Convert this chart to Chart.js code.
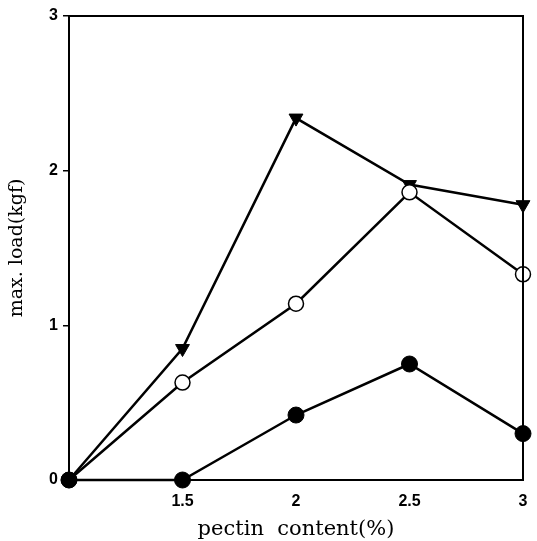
<!DOCTYPE html>
<html>
<head>
<meta charset="UTF-8">
<title>max. load vs pectin content</title>
<script src="https://cdn.jsdelivr.net/npm/chart.js"></script>
<style>
  html, body { margin: 0; padding: 0; background: #fff; overflow: hidden; }
  #wrap { width: 537px; height: 541px; }
</style>
</head>
<body>
<div id="wrap"><canvas id="chart"></canvas></div>
<script>
// data
const pectin = [1, 1.5, 2, 2.5, 3];
const loadTriangle = [0, 0.85, 2.34, 1.91, 1.78];
const loadOpen = [0, 0.63, 1.14, 1.86, 1.33];
const loadFilled = [0, 0, 0.42, 0.75, 0.30];
const xTicks = [1.5, 2, 2.5, 3];
const yTicks = [0, 1, 2, 3];

const toXY = (ys) => pectin.map((x, i) => ({ x: x, y: ys[i] }));

// box round the plot area
const frame = {
  id: 'frame',
  afterDraw(chart) {
    const { ctx, chartArea: a } = chart;
    ctx.save();
    ctx.strokeStyle = '#000';
    ctx.lineWidth = 2;
    ctx.strokeRect(a.left, a.top, a.right - a.left, a.bottom - a.top);
    ctx.restore();
  }
};

const tickFont = { family: 'Liberation Sans, Arial', size: 16, weight: 'bold' };

new Chart(document.getElementById('chart'), {
  type: 'line',
  data: {
    datasets: [
      {
        data: toXY(loadFilled),
        borderColor: '#000', borderWidth: 2.5,
        pointStyle: 'circle', pointRadius: 8,
        pointBackgroundColor: '#000', pointBorderColor: '#000', pointBorderWidth: 1
      },
      {
        data: toXY(loadOpen),
        borderColor: '#000', borderWidth: 2.5,
        pointStyle: 'circle', pointRadius: 7.5,
        pointBackgroundColor: '#fff', pointBorderColor: '#000', pointBorderWidth: 1.5
      },
      {
        data: toXY(loadTriangle),
        borderColor: '#000', borderWidth: 2.5,
        pointStyle: 'triangle', pointRotation: 180, pointRadius: 8,
        pointBackgroundColor: '#000', pointBorderColor: '#000', pointBorderWidth: 1
      }
    ]
  },
  options: {
    responsive: true,
    maintainAspectRatio: false,
    animation: false,
    clip: false,
    layout: { padding: { top: 16, right: 14, left: 0, bottom: 0 } },
    plugins: { legend: { display: false }, tooltip: { enabled: false } },
    scales: {
      x: {
        type: 'linear', min: 1, max: 3,
        afterFit(s) { s.height = 61; },
        afterBuildTicks(s) { s.ticks = xTicks.map(v => ({ value: v })); },
        grid: { display: false },
        border: { color: '#000', width: 2 },
        ticks: { color: '#000', font: tickFont, padding: 4, maxRotation: 0, callback: v => String(v) },
        title: { display: true, text: 'pectin  content(%)', color: '#000',
                 font: { family: 'DejaVu Serif', size: 21 }, padding: { top: 0, bottom: -1 } }
      },
      y: {
        type: 'linear', min: 0, max: 3,
        afterFit(s) { s.width = 69; },
        afterBuildTicks(s) { s.ticks = yTicks.map(v => ({ value: v })); },
        grid: { drawOnChartArea: false, drawTicks: true, tickLength: 6, color: '#000', lineWidth: 1.5 },
        border: { color: '#000', width: 2 },
        ticks: { color: '#000', font: tickFont, padding: 5, callback: v => String(v) },
        title: { display: true, text: 'max. load(kgf)', color: '#000',
                 font: { family: 'DejaVu Serif', size: 19 }, padding: { top: 6, bottom: 0 } }
      }
    }
  },
  plugins: [frame]
});
</script>
</body>
</html>
